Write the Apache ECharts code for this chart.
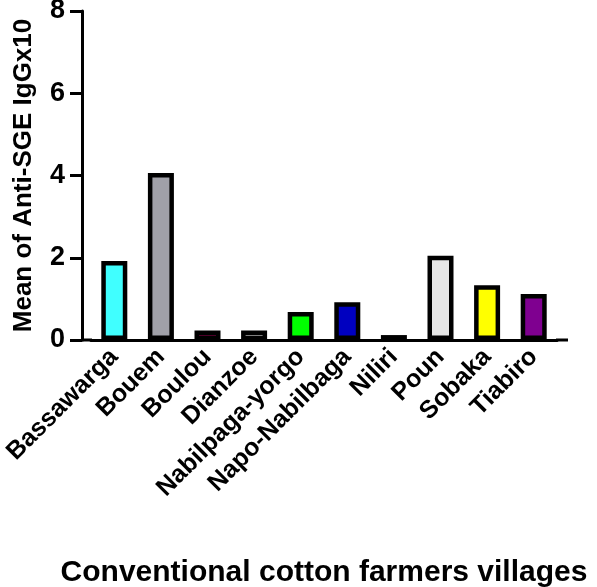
<!DOCTYPE html>
<html>
<head>
<meta charset="utf-8">
<script src="https://cdn.jsdelivr.net/npm/echarts@6/dist/echarts.min.js"></script>
<style>
  html, body { margin: 0; padding: 0; background: #fff; }
  #chart { width: 597px; height: 587px; }
</style>
</head>
<body>
<div id="chart"></div>
<script>
    // villages and mean values
    var villages = ['Bassawarga', 'Bouem', 'Boulou', 'Dianzoe', 'Nabilpaga-yorgo',
        'Napo-Nabilbaga', 'Niliri', 'Poun', 'Sobaka', 'Tiabiro'];
    var means = [1.92, 4.06, 0.23, 0.23, 0.68, 0.92, 0.12, 2.05, 1.33, 1.12];
    var fills = ['#40FFFF', '#A0A0A8', '#990050', '#FFFFFF', '#00FF00',
        '#0000C0', '#000000', '#E6E6E6', '#FFFF00', '#7F0090'];

    var font = 'Liberation Sans, Arial, Helvetica, sans-serif';

    var chart = echarts.init(document.getElementById('chart'));

    var barData = means.map(function (v, i) {
        return { value: v, itemStyle: { color: fills[i] } };
    });

    var options = {
        animation: false,
        backgroundColor: '#fff',
        grid: { left: 91, right: 40, top: 11, bottom: 247, outerBoundsMode: 'none' },
        xAxis: {
            type: 'category',
            data: villages,
            name: 'Conventional cotton farmers villages',
            nameLocation: 'middle',
            nameGap: 218,
            nameTextStyle: { fontFamily: font, fontWeight: 'bold', fontSize: 30, color: '#000' },
            axisLine: { lineStyle: { color: '#000', width: 3 } },
            axisTick: { alignWithLabel: true, length: 10, lineStyle: { color: '#000', width: 3 } },
            axisLabel: {
                interval: 0,
                rotate: 45,
                margin: 13,
                fontFamily: font,
                fontWeight: 'bold',
                fontSize: 25,
                color: '#000'
            }
        },
        yAxis: {
            type: 'value',
            min: 0,
            max: 8,
            interval: 2,
            offset: 9,
            name: 'Mean of Anti-SGE IgGx10',
            nameLocation: 'middle',
            nameGap: 45,
            nameTextStyle: { fontFamily: font, fontWeight: 'bold', fontSize: 26, color: '#000' },
            axisLine: { show: true, lineStyle: { color: '#000', width: 3 } },
            axisTick: { show: true, length: 12, lineStyle: { color: '#000', width: 3 } },
            axisLabel: { margin: 17, fontFamily: font, fontWeight: 'bold', fontSize: 27, color: '#000' },
            splitLine: { show: false }
        },
        series: [{
            type: 'bar',
            barWidth: 26,
            data: barData,
            itemStyle: { borderColor: '#000', borderWidth: 4.5 }
        }]
    };
    chart.setOption(options);

    // extend the baseline to meet the offset y axis and run past the last bar, like the original
    var y0 = chart.convertToPixel({ yAxisIndex: 0 }, 0);
    chart.setOption({
        graphic: [
            { type: 'line', shape: { x1: 81, y1: y0, x2: 92, y2: y0 }, style: { stroke: '#000', lineWidth: 3 } },
            { type: 'line', shape: { x1: 556, y1: y0, x2: 568, y2: y0 }, style: { stroke: '#000', lineWidth: 3 } }
        ]
    });
</script>
</body>
</html>
